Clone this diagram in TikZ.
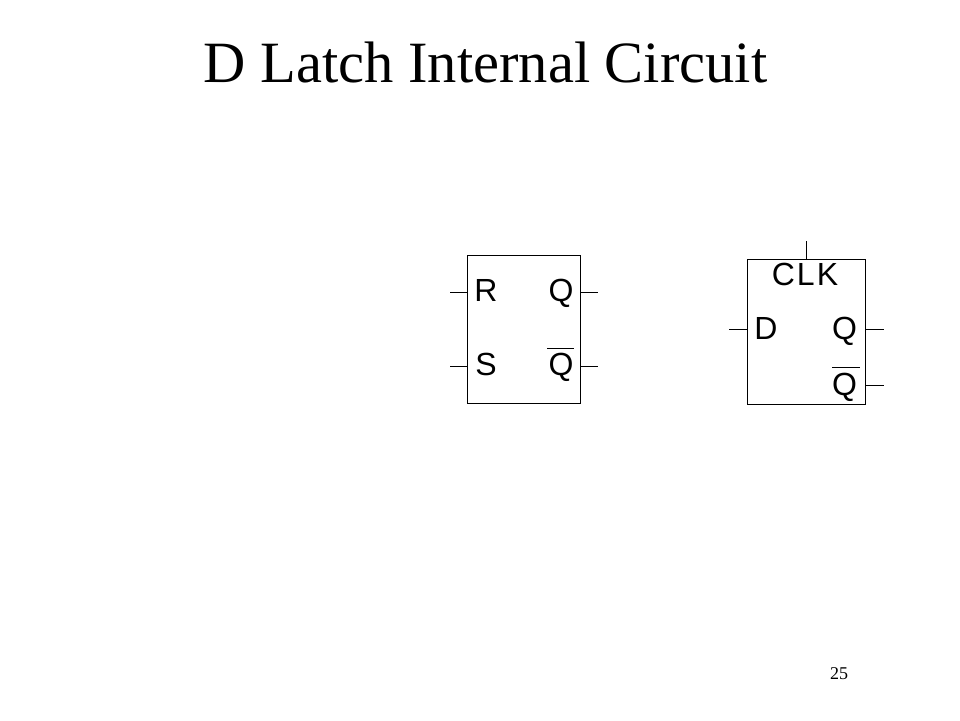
\documentclass[tikz,border=0pt]{standalone}
\usepackage{fontspec}
\setmainfont{Liberation Serif}
\newfontfamily\lblfont{Liberation Sans}
\tikzset{
  pxnode/.style={inner sep=0pt,outer sep=0pt},
  lbl/.style={pxnode,anchor=base,font=\lblfont\fontsize{32}{32}\selectfont,text=black},
  wire/.style={line width=0.75pt,draw=black},
  blockbox/.style={draw=black,line width=0.75pt,fill=white}
}
\begin{document}
\begin{tikzpicture}[x=1pt,y=-1pt]
\useasboundingbox (0,0) rectangle (960,720);
\fill[white] (0,0) rectangle (960,720);
\node[pxnode,anchor=base,font=\fontsize{58.5}{58.5}\selectfont] (title) at (485.5,82) {D Latch Internal Circuit};
\node[pxnode,font=\fontsize{18}{18}\selectfont] (page) at (839,674) {25};
% RS
\node[blockbox,minimum width=113pt,minimum height=148pt,pxnode,draw] (rs) at (523.5,329.5) {};
\coordinate (r1) at (450,292); \coordinate (r2) at (467,292);
\coordinate (s1) at (450,366); \coordinate (s2) at (467,366);
\coordinate (q1) at (580,292); \coordinate (q2) at (598,292);
\coordinate (qb1) at (580,366); \coordinate (qb2) at (598,366);
\draw[wire] (r1)--(r2); \draw[wire] (s1)--(s2); \draw[wire] (q1)--(q2); \draw[wire] (qb1)--(qb2);
\node[lbl] (lr) at (486,301.5) {R};
\node[lbl] (ls) at (486,375.5) {S};
\node[lbl] (lq) at (561,301.5) {Q};
\node[lbl] (lqb) at (561,375.5) {Q};
\coordinate (ob1) at (547,348); \coordinate (ob2) at (574,348);
\draw[wire] (ob1)--(ob2);
% D latch
\node[blockbox,minimum width=118pt,minimum height=145pt,pxnode,draw] (dl) at (806,331.5) {};
\coordinate (c1) at (806,241); \coordinate (c2) at (806,259);
\coordinate (d1) at (729,329); \coordinate (d2) at (747,329);
\coordinate (q3) at (865,329); \coordinate (q4) at (884,329);
\coordinate (q5) at (865,385); \coordinate (q6) at (884,385);
\draw[wire] (c1)--(c2); \draw[wire] (d1)--(d2); \draw[wire] (q3)--(q4); \draw[wire] (q5)--(q6);
\node[lbl] (lclk) at (805,285.5) {C\kern2pt L\kern2pt K};
\node[lbl] (ld) at (766,339.5) {D};
\node[lbl] (lq2) at (844.5,339.5) {Q};
\node[lbl] (lqb2) at (844.5,395.5) {Q};
\coordinate (ob3) at (832,367); \coordinate (ob4) at (860,367);
\draw[wire] (ob3)--(ob4);
\end{tikzpicture}
\end{document}
